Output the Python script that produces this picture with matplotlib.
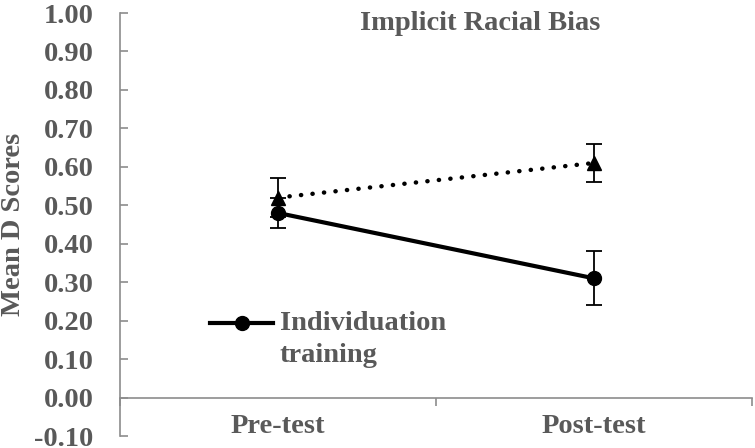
import matplotlib
matplotlib.use("Agg")
import matplotlib.pyplot as plt
from matplotlib.ticker import FixedLocator
from matplotlib.lines import Line2D

# Data
categories = ["Pre-test", "Post-test"]
indiv_means = [0.48, 0.31]
indiv_err = [0.04, 0.07]
control_means = [0.52, 0.61]
control_err = [0.05, 0.05]
yticks = [-0.10, 0.00, 0.10, 0.20, 0.30, 0.40, 0.50, 0.60, 0.70, 0.80, 0.90, 1.00]
legend_label = "Individuation\ntraining"

GRAY_TXT = "#595959"
GRAY_AX = "#8c8c8c"
FS = 20.5
plt.rcParams['font.family'] = ['Liberation Serif', 'DejaVu Serif']
plt.rcParams['font.weight'] = 'bold'

fig = plt.figure(figsize=(7.55, 4.48), dpi=100)
ax = fig.add_axes([120/755, 1-436/448, (752-120)/755, (436-13)/448])

x = [0.5, 1.5]

ax.errorbar(x, control_means, yerr=control_err, color='black', linestyle=(0, (0.05, 2.55)),
            dash_capstyle='round', linewidth=3.2, marker='^', markersize=10,
            ecolor='black', elinewidth=1.3, capsize=5.5, capthick=1.3, zorder=3)
ax.errorbar(x, indiv_means, yerr=indiv_err, color='black', linestyle='-', linewidth=3.0,
            marker='o', markersize=10, ecolor='black', elinewidth=1.3, capsize=5.5,
            capthick=1.3, zorder=4)

ax.set_xlim(0, 2)
ax.set_ylim(-0.10, 1.00)
ax.set_yticks(yticks)
ax.set_yticklabels([f"{v:.2f}" for v in yticks])

for s in ['top', 'right']:
    ax.spines[s].set_visible(False)
ax.spines['left'].set_color(GRAY_AX)
ax.spines['left'].set_linewidth(1.2)
ax.spines['bottom'].set_position(('data', 0))
ax.spines['bottom'].set_color(GRAY_AX)
ax.spines['bottom'].set_linewidth(1.2)

ax.set_xticks(x)
ax.set_xticklabels(categories)
ax.xaxis.set_minor_locator(FixedLocator([0, 1, 2]))
ax.tick_params(axis='x', which='major', length=0, pad=12, labelsize=FS, labelcolor=GRAY_TXT)
ax.tick_params(axis='x', which='minor', length=6, width=1.2, color=GRAY_AX, direction='out')
ax.tick_params(axis='y', which='major', length=6, width=1.2, color=GRAY_AX, direction='in',
               pad=19, labelsize=FS, labelcolor=GRAY_TXT)

ax.set_ylabel("Mean D Scores", fontsize=FS, color=GRAY_TXT, fontweight='bold')
ax.yaxis.label.set_va('center')
ax.yaxis.set_label_coords((13-120)/632, 0.5)

fig.text(480/755, 1-24/448, "Implicit Racial Bias", ha='center', va='center',
         fontsize=FS, color=GRAY_TXT, fontweight='bold')

# Legend (manual, handle aligned with first text line)
lx0, lx1, ly = (210-120)/632, (273-120)/632, 1-(323-13)/423
ax.add_line(Line2D([lx0, lx1], [ly, ly], transform=ax.transAxes, color='black',
                   linewidth=3.0, clip_on=False))
ax.add_line(Line2D([(lx0+lx1)/2], [ly], transform=ax.transAxes, color='black',
                   marker='o', markersize=10, linestyle='none', clip_on=False))
ax.text((280-120)/632, 1-(311-13)/423, legend_label, transform=ax.transAxes,
        ha='left', va='top', fontsize=FS, color=GRAY_TXT, fontweight='bold',
        linespacing=1.35)

fig.savefig("out.png", dpi=100)
